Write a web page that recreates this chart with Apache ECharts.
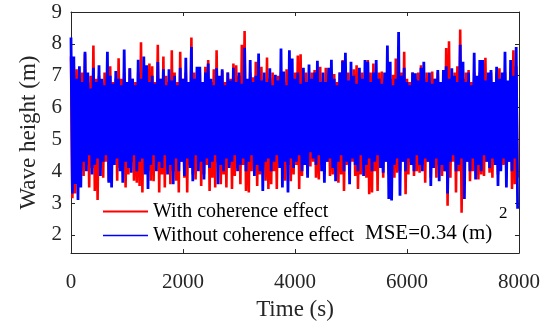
<!DOCTYPE html>
<html>
<head>
<meta charset="utf-8">
<script src="https://cdn.jsdelivr.net/npm/echarts@6/dist/echarts.min.js"></script>
<style>html,body{margin:0;padding:0;background:#fff}#c{width:548px;height:326px}</style>
</head>
<body>
<div id="c"></div>
<script>
// sample spacing of the envelope readings (s)
const step = 50;
const xTicks = [0, 2000, 4000, 6000, 8000];
const yTicks = [2, 3, 4, 5, 6, 7, 8, 9];
const seriesNames = ['With coherence effect', 'Without coherence effect'];

// Wave height crests (m), read every 50 s, with coherence effect
const redHigh = [7.6,7.3,7.2,6.9,7.1,7.7,6.8,7.0,7.95,6.9, 7.0,6.8,7.1,7.2,7.3,6.8,6.9,7.55,6.9,7.1,
 6.8,7.23,6.9,6.8,7.1,8.05,6.9,7.1,7.38,7.3, 6.8,7.97,6.9,7.6,7.0,6.8,7.8,7.1,6.8,7.75,
 6.9,7.1,6.8,8.2,7.1,6.9,7.1,6.8,7.28,7.49, 6.8,7.2,7.8,6.9,7.15,6.8,7.1,6.9,7.38,7.33,
 7.0,7.97,8.4,6.8,7.1,6.95,7.44,6.9,7.28,6.8, 7.57,6.9,7.1,6.8,7.0,7.1,6.8,7.2,7.1,6.9,
 7.1,7.63,7.67,6.9,7.1,6.8,7.1,7.18,6.9,7.28, 6.8,7.25,6.9,7.1,7.05,6.8,7.1,7.49,6.9,7.1,
 6.8,7.2,7.33,6.9,7.1,6.8,7.49,7.1,7.38,6.9, 7.1,7.13,6.8,7.1,6.9,7.03,7.54,6.9,7.1,7.75,
 6.9,6.8,7.1,6.9,7.1,7.33,6.9,7.1,6.8,7.13, 6.9,7.1,6.8,7.1,7.87,8.08,6.9,7.1,7.3,8.45,
 6.9,7.1,7.18,6.8,7.1,6.9,7.1,7.2,7.56,6.9, 7.1,6.8,7.1,7.23,6.9,7.1,6.8,7.1,7.8,7.3];
// Wave height troughs (m), with coherence effect
const redLow = [3.15,3.3,3.6,4.0,3.85,4.2,3.49,4.1,3.38,3.1, 4.1,3.8,4.3,3.69,4.0,4.4,3.7,4.1,4.2,3.49,
 3.9,4.3,3.7,3.64,3.54,3.33,4.2,4.0,3.7,3.69, 4.3,3.33,3.9,3.49,4.2,3.59,4.0,3.7,3.33,4.3,
 3.8,3.33,4.2,3.9,3.74,4.3,3.54,3.9,4.2,3.38, 3.8,3.49,4.3,3.59,3.9,3.49,4.2,3.44,3.85,4.1,
 3.59,4.2,3.38,3.33,4.0,4.3,3.54,3.9,4.2,3.7, 3.44,3.59,4.0,3.44,4.3,3.8,3.7,4.2,3.69,3.9,
 4.2,3.44,3.85,4.3,3.9,4.15,4.3,3.8,3.74,4.2, 3.9,4.3,3.85,3.9,4.3,3.64,3.9,3.38,4.2,3.9,
 4.3,3.85,3.44,3.9,4.2,3.8,3.28,3.33,4.0,3.38, 4.2,3.8,4.3,3.9,4.2,3.8,3.95,4.0,4.3,3.28,
 3.9,4.3,3.85,4.0,3.95,4.2,3.64,4.3,3.8,4.2, 3.8,4.2,3.85,4.0,2.92,3.8,4.3,3.33,4.0,2.7,
 3.8,4.3,3.69,4.0,4.3,3.74,3.9,3.85,4.3,3.95, 3.8,4.3,3.9,4.05,4.2,3.8,4.3,3.44,3.59,3.8];
// Wave height crests (m), without coherence effect
const blueHigh = [8.2,7.6,6.9,7.3,6.8,7.75,7.1,6.6,7.25,6.8, 7.33,6.9,6.7,7.75,7.0,6.75,7.15,6.9,6.7,7.82,
 6.8,7.23,6.9,6.7,7.5,6.9,7.6,7.33,6.8,7.0, 6.75,7.43,6.9,7.2,6.7,7.2,6.85,7.0,6.7,7.25,
 6.9,7.56,6.8,7.9,6.9,7.28,7.28,6.8,7.1,7.38, 6.9,6.7,7.23,7.0,7.2,6.7,7.1,6.85,7.25,6.8,
 7.1,6.75,7.88,6.9,7.49,6.8,7.0,7.7,6.85,7.1, 6.8,7.23,6.7,7.03,6.85,7.85,7.13,6.7,7.8,7.54,
 6.9,7.1,6.75,7.25,6.8,7.35,6.9,7.1,7.47,6.8, 7.1,6.8,7.25,7.5,6.9,6.7,7.1,7.46,7.72,6.85,
 7.44,7.0,6.75,7.25,6.9,7.49,7.44,6.8,7.1,7.49, 6.9,6.75,7.1,7.95,7.44,6.7,6.9,8.37,7.0,7.25,
 6.8,6.7,7.1,7.08,6.85,7.25,7.44,6.8,7.1,6.75, 6.9,7.18,6.8,7.18,7.3,6.9,7.23,7.0,6.8,7.97,
 7.44,6.8,7.1,6.7,7.72,7.0,7.49,7.49,6.85,7.1, 7.18,6.8,7.28,6.9,7.1,7.75,6.85,7.49,7.0,7.9];
// Wave height troughs (m), without coherence effect
const blueLow = [3.3,3.6,3.1,3.49,4.3,4.0,4.5,3.9,4.2,4.4, 3.85,4.3,4.5,3.64,3.49,4.2,4.4,4.0,3.64,4.3,
 4.1,3.95,4.5,4.0,4.3,4.4,3.9,3.44,4.2,4.5, 4.0,4.3,4.1,4.5,3.9,4.2,3.59,4.4,4.0,4.3,
 3.85,4.4,4.1,3.69,4.5,4.0,4.3,3.74,4.4,4.1, 4.3,4.5,3.59,4.2,4.0,4.4,4.1,4.3,4.5,4.0,
 4.2,4.4,4.0,4.3,4.5,3.85,4.2,4.0,3.38,4.3, 4.4,4.0,4.3,4.5,4.1,3.49,4.3,3.33,4.4,4.1,
 4.3,4.5,4.0,4.2,3.8,4.6,4.4,4.2,4.5,4.0, 3.64,4.3,4.4,4.1,3.69,4.3,4.5,4.0,4.3,3.59,
 4.4,4.2,4.0,4.5,3.85,4.2,4.4,4.0,4.3,4.5, 4.1,3.95,4.3,3.13,3.08,4.2,4.4,3.23,4.3,4.0,
 4.4,4.2,4.0,4.5,4.2,4.0,4.4,4.3,3.54,4.1, 4.4,3.69,4.2,4.0,3.3,4.3,4.5,4.0,4.2,4.4,
 3.13,4.3,4.0,4.4,3.74,4.2,4.0,4.5,4.3,4.1, 4.4,4.2,3.54,4.0,4.4,3.49,4.3,4.0,4.4,2.82];

function build(high, low) {
  const out = [];
  for (let i = 0; i < high.length; i++) {
    out.push([i * step, high[i]]);
    out.push([i * step + step / 2, low[i]]);
  }
  return out;
}

const FONT = "'Liberation Serif','Times New Roman',serif";
const AX = '#262626';
const chart = echarts.init(document.getElementById('c'), null, {renderer: 'canvas'});

const axisCommon = {
  axisLine: {show: true, onZero: false, lineStyle: {color: AX, width: 1}},
  axisTick: {show: true, inside: true, length: 4, lineStyle: {color: AX}},
  splitLine: {show: false}
};

chart.setOption({
  animation: false,
  backgroundColor: '#fff',
  grid: {left: 71, right: 29, top: 12, bottom: 67, containLabel: false},
  xAxis: [
    Object.assign({}, axisCommon, {
      type: 'value', min: xTicks[0], max: xTicks[xTicks.length - 1], interval: 2000,
      position: 'bottom',
      axisLabel: {color: AX, fontFamily: FONT, fontSize: 21, margin: 19, formatter: v => String(v)},
      name: 'Time (s)', nameLocation: 'middle', nameGap: 41,
      nameTextStyle: {color: AX, fontFamily: FONT, fontSize: 23}
    }),
    Object.assign({}, axisCommon, {
      type: 'value', min: xTicks[0], max: xTicks[xTicks.length - 1], interval: 2000,
      position: 'top', axisLabel: {show: false}
    })
  ],
  yAxis: [
    Object.assign({}, axisCommon, {
      type: 'value', min: 1.43, max: 9,
      axisTick: {show: true, inside: true, length: 4, lineStyle: {color: AX}, customValues: yTicks},
      axisLabel: {color: AX, fontFamily: FONT, fontSize: 21, margin: 9, customValues: yTicks},
      name: 'Wave height (m)', nameLocation: 'middle', nameGap: 20,
      nameTextStyle: {color: AX, fontFamily: FONT, fontSize: 23}
    }),
    Object.assign({}, axisCommon, {
      type: 'value', min: 1.43, max: 9, position: 'right',
      axisTick: {show: true, inside: true, length: 4, lineStyle: {color: AX}, customValues: yTicks},
      axisLabel: {show: false}
    })
  ],
  legend: [
    {data: [seriesNames[0]], left: 103, top: 201.5, padding: 0, icon: 'rect', itemWidth: 45, itemHeight: 2,
     selectedMode: false, textStyle: {fontFamily: FONT, fontSize: 20, color: '#000'}},
    {data: [seriesNames[1]], left: 103, top: 225.5, padding: 0, icon: 'rect', itemWidth: 45, itemHeight: 1.3,
     selectedMode: false, textStyle: {fontFamily: FONT, fontSize: 20, color: '#000'}}
  ],
  series: [
    {name: seriesNames[0], type: 'line', data: build(redHigh, redLow), showSymbol: false,
     symbol: 'none', sampling: null, lineStyle: {color: '#ff0000', width: 2.6}, itemStyle: {color: '#ff0000'}, z: 2},
    {name: seriesNames[1], type: 'line', data: build(blueHigh, blueLow), showSymbol: false,
     symbol: 'none', sampling: null, lineStyle: {color: '#0000ff', width: 2.8}, itemStyle: {color: '#0000ff'}, z: 3}
  ],
  graphic: [
    {type: 'text', left: 365, top: 223, z: 100,
     style: {text: 'MSE=0.34 (m)', font: '21px ' + FONT, fill: '#000'}},
    {type: 'text', left: 499, top: 205, z: 100,
     style: {text: '2', font: '17px ' + FONT, fill: '#000'}}
  ]
});
</script>
</body>
</html>
